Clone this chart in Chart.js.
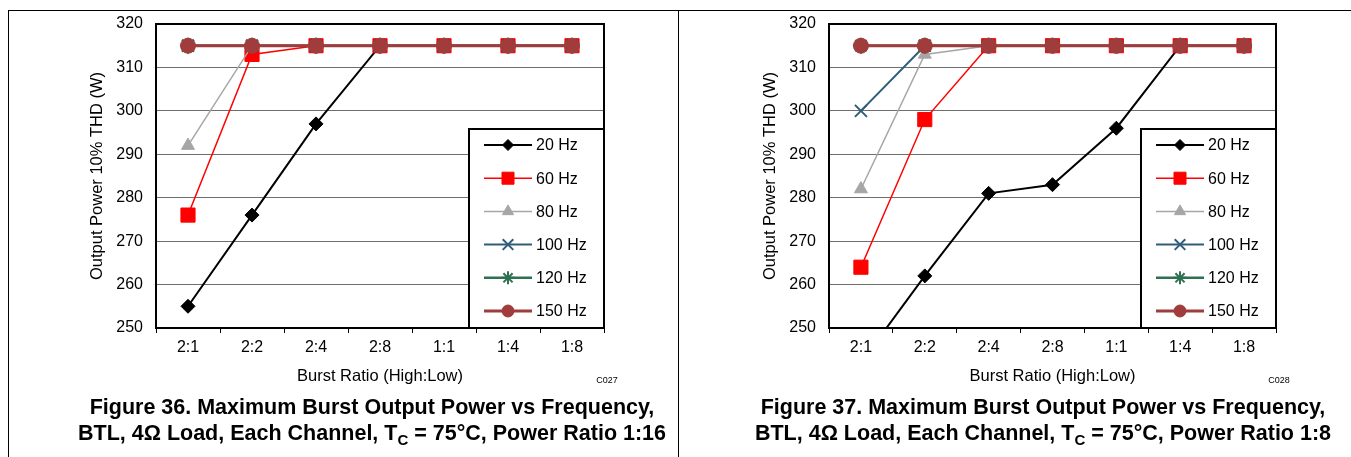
<!DOCTYPE html>
<html lang="en">
<head>
  <meta charset="UTF-8" />
  <title>Maximum Burst Output Power vs Frequency</title>
  <script src="https://cdn.jsdelivr.net/npm/chart.js"></script>
  <style>
    body { margin: 0; background: #fff; color: #000; font-family: "Liberation Sans", Arial, sans-serif; }
    #page { position: relative; width: 1351px; height: 457px; overflow: hidden; }
    .rule { position: absolute; background: #000; }
    canvas { position: absolute; top: 0; }
    .code { position: absolute; width: 40px; font-size: 9px; text-align: center; }
    .caption { position: absolute; width: 700px; text-align: center; font-weight: bold; font-size: 21.5px; line-height: 26px; }
    .caption sub { font-size: 15px; line-height: 0; vertical-align: -5px; }
  </style>
</head>
<body>
  <div id="page">
    <div class="rule" style="left:8px; top:10px; width:1343px; height:1px;"></div>
    <div class="rule" style="left:8px; top:10px; width:1px; height:447px;"></div>
    <div class="rule" style="left:678px; top:10px; width:1px; height:447px;"></div>

    <canvas id="fig36" width="676" height="395" style="left:0px"></canvas>
    <canvas id="fig37" width="671" height="395" style="left:680px"></canvas>

    <div class="code" style="left:587px; top:375px;">C027</div>
    <div class="code" style="left:1259px; top:375px;">C028</div>

    <div class="caption" style="left:22px; top:394px;">Figure 36. Maximum Burst Output Power vs Frequency,<br>BTL, 4&Omega; Load, Each Channel, T<sub>C</sub> = 75°C, Power Ratio 1:16</div>
    <div class="caption" style="left:693px; top:394px;">Figure 37. Maximum Burst Output Power vs Frequency,<br>BTL, 4&Omega; Load, Each Channel, T<sub>C</sub> = 75°C, Power Ratio 1:8</div>
  </div>

  <script>
    // burst ratios on the x axis
    const categories = ['2:1', '2:2', '2:4', '2:8', '1:1', '1:4', '1:8'];
    const seriesNames = ['20 Hz', '60 Hz', '80 Hz', '100 Hz', '120 Hz', '150 Hz'];
    const yMin = 250;
    const yMax = 320;
    const yStep = 10;

    // Figure 36, power ratio 1:16
    const fig36_20Hz  = [255, 276, 297, 315, 315, 315, 315];
    const fig36_60Hz  = [276, 313, 315, 315, 315, 315, 315];
    const fig36_80Hz  = [292, 315, 315, 315, 315, 315, 315];
    const fig36_100Hz = [315, 315, 315, 315, 315, 315, 315];
    const fig36_120Hz = [315, 315, 315, 315, 315, 315, 315];
    const fig36_150Hz = [315, 315, 315, 315, 315, 315, 315];

    // Figure 37, power ratio 1:8
    const fig37_20Hz  = [242, 262, 281, 283, 296, 315, 315];
    const fig37_60Hz  = [264, 298, 315, 315, 315, 315, 315];
    const fig37_80Hz  = [282, 313, 315, 315, 315, 315, 315];
    const fig37_100Hz = [300, 315, 315, 315, 315, 315, 315];
    const fig37_120Hz = [315, 315, 315, 315, 315, 315, 315];
    const fig37_150Hz = [315, 315, 315, 315, 315, 315, 315];

    const seriesStyles = [
      { color: '#000000', width: 2,   point: 'rectRot',  radius: 7,   legendRadius: 5.5, border: 1 },
      { color: '#ff0000', width: 1.5, point: 'rect',     radius: 10,  legendRadius: 8.5, border: 1 },
      { color: '#a6a6a6', width: 1.5, point: 'triangle', radius: 7.5, legendRadius: 6.5, border: 1 },
      { color: '#2f5e78', width: 2,   point: 'crossRot', radius: 8.5, legendRadius: 7.5, border: 2 },
      { color: '#2f7050', width: 2.5, point: 'star',     radius: 8,   legendRadius: 6.5, border: 2 },
      { color: '#a03c3c', width: 3,   point: 'circle',   radius: 7.5, legendRadius: 6,   border: 1 }
    ];

    Chart.defaults.font.family = '"Liberation Sans", Arial, sans-serif';
    Chart.defaults.color = '#000';

    const plotFrame = {
      id: 'plotFrame',
      beforeDatasetsDraw(chart) {
        const { ctx, chartArea: a } = chart;
        ctx.save();
        ctx.lineWidth = 2;
        ctx.strokeStyle = '#000';
        ctx.strokeRect(a.left, a.top, a.right - a.left, a.bottom - a.top);
        ctx.restore();
      }
    };

    // legend box sitting in the lower right corner of the plot
    const boxLegend = {
      id: 'boxLegend',
      afterDatasetsDraw(chart) {
        const { ctx, chartArea } = chart;
        const w = 135, h = 199;
        const x0 = chartArea.right - w;
        const y0 = chartArea.bottom - h;
        ctx.save();
        ctx.fillStyle = '#fff';
        ctx.fillRect(x0, y0, w, h);
        ctx.lineWidth = 2;
        ctx.strokeStyle = '#000';
        ctx.strokeRect(x0, y0, w, h);
        chart.data.datasets.forEach((ds, i) => {
          const st = seriesStyles[i];
          const y = y0 + 16 + i * 33.2;
          ctx.strokeStyle = st.color;
          ctx.lineWidth = st.width;
          ctx.beginPath();
          ctx.moveTo(x0 + 15, y);
          ctx.lineTo(x0 + 63, y);
          ctx.stroke();
          ctx.fillStyle = st.color;
          ctx.lineWidth = st.border;
          Chart.helpers.drawPoint(ctx, { pointStyle: st.point, radius: st.legendRadius, borderWidth: st.border, rotation: 0 }, x0 + 39, y);
          ctx.fillStyle = '#000';
          ctx.font = '16px "Liberation Sans", Arial, sans-serif';
          ctx.textBaseline = 'middle';
          ctx.textAlign = 'left';
          ctx.fillText(ds.label, x0 + 67, y + 1);
        });
        ctx.restore();
      }
    };

    function makeDatasets(seriesValues) {
      return seriesValues.map((values, i) => {
        const st = seriesStyles[i];
        return {
          label: seriesNames[i],
          data: values,
          borderColor: st.color,
          backgroundColor: st.color,
          borderWidth: st.width,
          pointStyle: st.point,
          pointRadius: st.radius,
          pointHoverRadius: st.radius,
          pointBackgroundColor: st.color,
          pointBorderColor: st.color,
          pointBorderWidth: st.border,
          tension: 0,
          order: seriesValues.length - i   // later series drawn on top, like the original
        };
      });
    }

    function makeChart(canvasId, seriesValues, padLeft, padRight) {
      return new Chart(document.getElementById(canvasId), {
        type: 'line',
        data: { labels: categories, datasets: makeDatasets(seriesValues) },
        options: {
          responsive: false,
          animation: false,
          layout: { padding: { left: padLeft, right: padRight, top: 24, bottom: 9 } },
          plugins: {
            legend: { display: false },
            tooltip: { enabled: false }
          },
          scales: {
            x: {
              offset: true,
              grid: { offset: true, drawOnChartArea: false, drawTicks: true, tickLength: 5, color: '#000' },
              border: { display: false },
              ticks: { padding: 5, font: { size: 16 }, maxRotation: 0 },
              title: { display: true, text: 'Burst Ratio (High:Low)', font: { size: 16.5 }, padding: 0 },
              afterFit(scale) { scale.height = 58; }
            },
            y: {
              min: yMin,
              max: yMax,
              ticks: { stepSize: yStep, padding: 13, font: { size: 16 } },
              grid: { drawTicks: false, color: '#6e6e6e' },
              border: { display: false },
              title: { display: true, text: 'Output Power 10% THD (W)', font: { size: 16.5 }, padding: 0 },
              afterFit(scale) { scale.width = 68; }
            }
          }
        },
        plugins: [plotFrame, boxLegend]
      });
    }

    makeChart('fig36', [fig36_20Hz, fig36_60Hz, fig36_80Hz, fig36_100Hz, fig36_120Hz, fig36_150Hz], 88, 72);
    makeChart('fig37', [fig37_20Hz, fig37_60Hz, fig37_80Hz, fig37_100Hz, fig37_120Hz, fig37_150Hz], 81, 75);
  </script>
</body>
</html>
